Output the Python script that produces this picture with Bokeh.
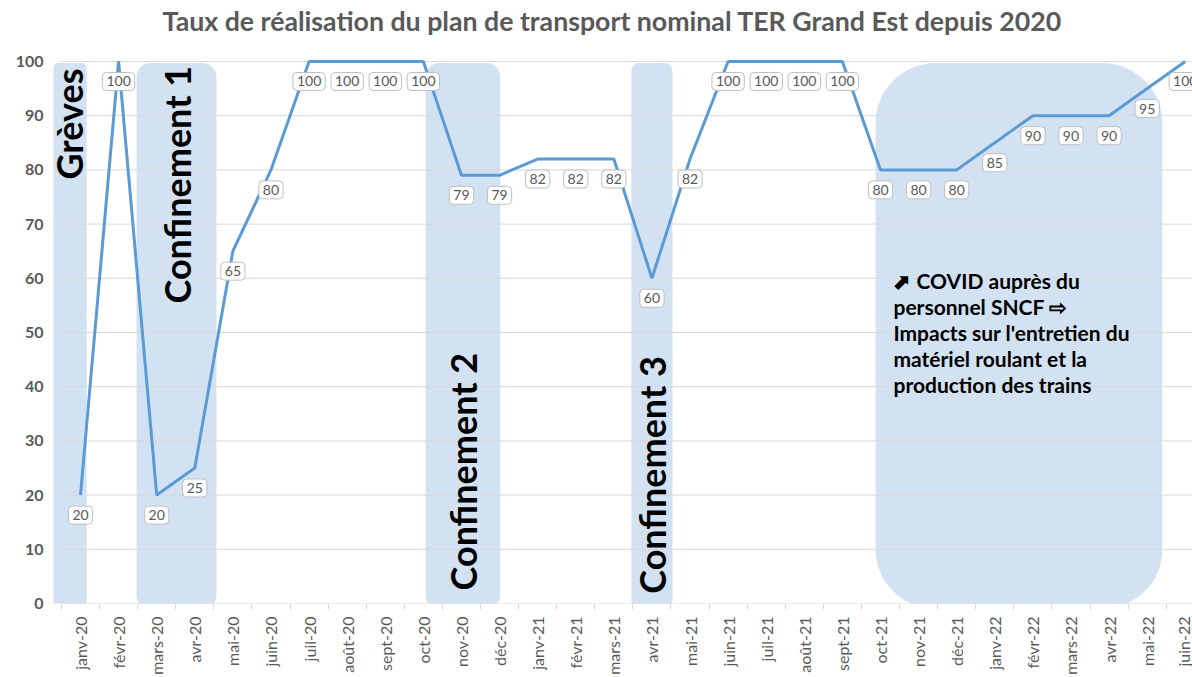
from math import pi
from bokeh.plotting import figure
from bokeh.models import (ColumnDataSource, BoxAnnotation, FixedTicker,
                          Range1d, Label)
from bokeh.core.properties import value
from bokeh.embed import file_html
from bokeh.resources import INLINE

# ---------------- data ----------------
months = ["janv-20", "févr-20", "mars-20", "avr-20", "mai-20", "juin-20", "juil-20",
          "août-20", "sept-20", "oct-20", "nov-20", "déc-20", "janv-21", "févr-21",
          "mars-21", "avr-21", "mai-21", "juin-21", "juil-21", "août-21", "sept-21",
          "oct-21", "nov-21", "déc-21", "janv-22", "févr-22", "mars-22", "avr-22",
          "mai-22", "juin-22"]
taux = [20, 100, 20, 25, 65, 80, 100, 100, 100, 100, 79, 79, 82, 82, 82, 60, 82,
        100, 100, 100, 100, 80, 80, 80, 85, 90, 90, 90, 95, 100]
y_ticks = [0, 10, 20, 30, 40, 50, 60, 70, 80, 90, 100]

# shaded periods (in month-index units)
period_names = ["Grèves", "Confinement 1", "Confinement 2", "Confinement 3"]
period_start = [-0.71, 1.47, 9.06, 14.46, 20.87]
period_end = [0.16, 3.57, 11.02, 15.54, 28.4]
covid_text = ["⬈ COVID auprès du", "personnel SNCF ⇨", "Impacts sur l'entretien du",
              "matériel roulant et la", "production des trains"]

title = "Taux de réalisation du plan de transport nominal TER Grand Est depuis 2020"

FONT = "Lato"
GRAY = "#595959"
LINE = "#5B9BD5"
SHADE = "#D3E2F2"
GRID = "#D9D9D9"

x = list(range(len(months)))
src = ColumnDataSource(dict(x=x, y=taux, lab=[str(v) for v in taux]))

# frame reaches the top of the canvas; the title sits inside it above y=100
p = figure(width=1192, height=677, output_backend="svg", toolbar_location=None,
           x_range=Range1d(-0.735, 29.19), y_range=Range1d(0, 111.25),
           min_border_left=52, min_border_right=0, min_border_top=0,
           min_border_bottom=74, outline_line_color=None)

p.add_layout(Label(x=13.96, y=107.5, text=title,
                   text_align="center", text_baseline="middle", text_font=FONT,
                   text_font_size="26.7px", text_font_style="bold", text_color=GRAY))

p.xgrid.visible = False
p.ygrid.visible = False

# shaded boxes
radii = [5, 14, 14, 8, 60]
for s, e, r in zip(period_start, period_end, radii):
    p.add_layout(BoxAnnotation(left=s, right=e, bottom=-1, top=99.7,
                               fill_color=SHADE, fill_alpha=1, line_color=None,
                               border_radius=r, level="underlay"))

# gridlines
p.segment(x0=-0.5, x1=30, y0=y_ticks, y1=y_ticks, line_color=GRID, line_width=1)

# line
p.line("x", "y", source=src, line_color=LINE, line_width=3)

# data labels
p.text(x="x", y="y", text="lab", source=src, y_offset=20,
       text_align="center", text_baseline="middle",
       text_font=value(FONT), text_font_size="14px",
       text_color=GRAY,
       background_fill_color="white", border_line_color="#BFBFBF",
       border_line_width=1, padding=4, border_radius=4)

# rotated period labels
p.text(x=[-0.29, 2.52], y=[98.7, 99.2], text=period_names[:2], angle=pi / 2,
       text_align="right", text_baseline="middle", text_font=value(FONT),
       text_font_style="bold", text_font_size="36px", text_color="black")
p.text(x=[10.05, 15.0], y=[2.4, 1.8], text=period_names[2:], angle=pi / 2,
       text_align="left", text_baseline="middle", text_font=value(FONT),
       text_font_style="bold", text_font_size="36px", text_color="black")

# covid annotation
for i, t in enumerate(covid_text):
    p.add_layout(Label(x=21.34, y=59.6 - i * 4.8, text=t, text_align="left",
                       text_baseline="middle", text_font=FONT,
                       text_font_style="bold", text_font_size="21px",
                       text_color="black"))

# axes
p.xaxis.ticker = FixedTicker(ticks=x, minor_ticks=[i - 0.5 for i in range(len(months) + 1)])
p.xaxis.major_label_overrides = {i: m for i, m in enumerate(months)}
p.xaxis.major_label_orientation = pi / 2
p.xaxis.major_tick_line_color = None
p.xaxis.minor_tick_line_color = GRID
p.xaxis.minor_tick_in = 0
p.xaxis.minor_tick_out = 6
p.xaxis.axis_line_color = None
p.xaxis.major_label_standoff = 7
p.xaxis.major_label_text_font = FONT
p.xaxis.major_label_text_font_size = "16px"
p.xaxis.major_label_text_color = GRAY

p.yaxis.ticker = FixedTicker(ticks=y_ticks)
p.yaxis.major_tick_line_color = None
p.yaxis.minor_tick_line_color = None
p.yaxis.axis_line_color = None
p.yaxis.major_label_standoff = 3
p.yaxis.major_label_text_font = FONT
p.yaxis.major_label_text_font_size = "16px"
p.yaxis.major_label_text_font_style = "bold"
p.yaxis.major_label_text_color = GRAY

open("out.html", "w").write(file_html(p, INLINE))
